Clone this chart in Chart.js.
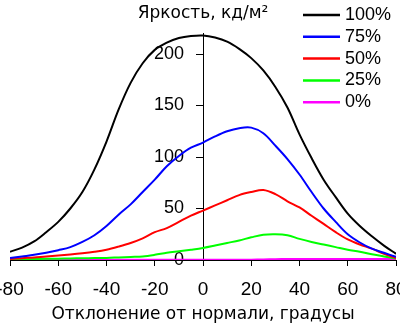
<!DOCTYPE html>
<html>
<head>
<meta charset="utf-8">
<script src="https://cdn.jsdelivr.net/npm/chart.js@4/dist/chart.umd.min.js"></script>
<style>
  html, body { margin: 0; padding: 0; background: #fff; }
  #wrap { width: 400px; height: 325px; position: relative; }
</style>
</head>
<body>
<div id="wrap"><canvas id="chBright"></canvas></div>
<script>
// углы отклонения, градусы
const angles = [-80,-75,-70,-65,-60,-55,-50,-45,-40,-35,-30,-25,-20,-15,-10,-5,0,5,10,15,20,25,30,35,40,45,50,55,60,65,70,75,80];
// яркость, кд/м2
const lum100 = [8,12,18,27,37,50,66,88,115,146,172,191,204,211,215.5,217.5,218,216,212,205,196,184,168,148,122,99,78,61,45,33,23,14,6];
const lum75  = [2,3.5,5,7,9.5,12.5,17.5,24,33,44,54,66,78,91,101,109,114,120,125,128,128.5,123,111,98,83,66,50,37,25,17,11,7,3];
const lum50  = [1,1.8,2.5,3.5,4.3,5.3,6.5,8,10,13,16.5,21,27,31,37,43,48,53,58,63,66,68,64,57,51,43,35,27,20,15,11,6,2];
const lum25  = [0.5,0.7,0.9,1.1,1.3,1.5,1.7,1.9,2,2.5,3,3.5,5,7,8.5,10,11.7,14,16.5,19,22,24.5,25,24,20.5,17.5,15,12.5,10,8,5.5,3.5,1.4];
const lum0   = [0.3,0.3,0.3,0.3,0.3,0.3,0.3,0.3,0.3,0.3,0.3,0.3,0.3,0.3,0.3,0.3,0.3,0.3,0.3,0.3,0.3,0.5,0.8,1,1,1,1,1,1,1,1,1,1];
const seriesNames = ['100%', '75%', '50%', '25%', '0%'];
const seriesColors = ['#000000', '#0000ff', '#ff0000', '#00ff00', '#ff00ff'];
const xTicks = [-80, 80, 20];   // min, max, step
const yTicks = [0, 220, 50];

const SANS = '"Liberation Sans", Arial, sans-serif';
const WIDE = '"DejaVu Sans", sans-serif';
Chart.defaults.color = '#000';
Chart.defaults.font.family = SANS;
Chart.defaults.font.size = 18;

// legend drawn as short lines to the upper right, as in the original
const lineLegend = {
  id: 'lineLegend',
  afterDraw(chart) {
    const ctx = chart.ctx;
    ctx.save();
    ctx.font = '18px ' + SANS;
    ctx.textBaseline = 'middle';
    ctx.textAlign = 'left';
    chart.data.datasets.forEach((ds, i) => {
      const y = 15 + i * 21.8;
      ctx.strokeStyle = ds.borderColor;
      ctx.lineWidth = 2.5;
      ctx.beginPath(); ctx.moveTo(303, y); ctx.lineTo(340, y); ctx.stroke();
      ctx.fillStyle = '#000';
      ctx.fillText(ds.label, 345, y);
    });
    ctx.restore();
  }
};

const allSeries = [lum100, lum75, lum50, lum25, lum0];
const data = {
  datasets: allSeries.map((vals, i) => ({
    label: seriesNames[i],
    data: vals.map((v, k) => ({ x: angles[k], y: v })),
    borderColor: seriesColors[i],
    backgroundColor: seriesColors[i],
    borderWidth: 2,
    pointRadius: 0,
    tension: 0.35,
    fill: false
  }))
};

new Chart(document.getElementById('chBright'), {
  type: 'line',
  data,
  plugins: [lineLegend],
  options: {
    responsive: true, maintainAspectRatio: false, animation: false,
    layout: { padding: { left: 10, right: 4, top: 0, bottom: 0 } },
    plugins: {
      legend: { display: false },
      tooltip: { enabled: false },
      title: {
        display: true, text: 'Яркость, кд/м²', fullSize: false,
        padding: { top: 3, bottom: 10 },
        font: { family: WIDE, size: 17, weight: 'normal' }, color: '#000'
      }
    },
    scales: {
      x: {
        type: 'linear', position: 'bottom',
        min: xTicks[0], max: xTicks[1],
        ticks: { stepSize: xTicks[2], padding: 12, font: { size: 19 }, color: '#000', maxRotation: 0 },
        grid: { drawOnChartArea: false, drawTicks: true, tickLength: 6, color: '#000' },
        border: { display: true, color: '#000', width: 1 },
        title: {
          display: true, text: 'Отклонение от нормали, градусы', color: '#000',
          font: { family: WIDE, size: 17, lineHeight: 1.15 }, padding: { top: 0, bottom: 1 }
        },
        // labels may run to the canvas edge; axis height fixed like the original
        afterFit: s => { s.paddingLeft = 0; s.paddingRight = 0; s.height = 65; }
      },
      y: {
        type: 'linear', position: 'center',
        min: yTicks[0], max: yTicks[1],
        ticks: { stepSize: yTicks[2], includeBounds: false, padding: 12, font: { size: 18 }, color: '#000' },
        grid: { drawOnChartArea: false, drawTicks: true, tickLength: 7, color: '#000' },
        border: { display: true, color: '#000', width: 1 }
      }
    }
  }
});
</script>
</body>
</html>
